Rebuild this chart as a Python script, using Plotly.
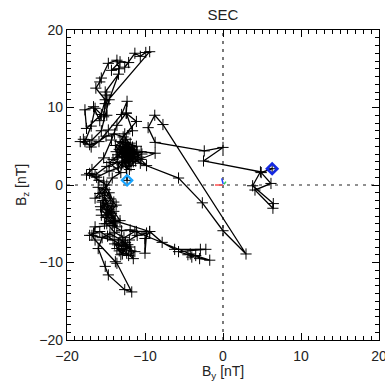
import plotly.graph_objects as go

# Hodogram path: By, Bz [nT] (start = first point, end = last point)
by = [-12.3, -12.4, -12.9, -11.9, -13.1, -12.2, -11.4, -12.6, -13.5, -12.0,
      -11.1, -12.9, -13.7, -12.5, -11.6, -12.3, -13.0, -14.1, -12.7, -11.3,
      -10.8, -11.8, -12.9, -13.8, -12.4, -11.6, -12.1,
      -12.6, -11.9, -13.3, -12.1, -11.0, -12.8, -13.6, -12.3, -11.7, -12.9,
      -12.0, -13.0, -11.5, -12.5, -10.5,
      -9.8, -11.2, -8.7,
      -10.5, -12.2, -13.4, -14.6, -16.2, -17.5, -16.8, -15.3, -14.3, -13.6,
      -12.4, -12.3, -13.0, -14.7, -15.9, -17.1, -18.3, -17.7, -16.9, -16.4,
      -15.6, -17.5, -17.7, -16.6, -15.8, -15.1, -16.3, -15.8, -15.6, -14.7,
      -13.6, -13.3, -14.3, -13.2, -12.1, -12.6, -11.3, -10.6, -9.9, -9.4,
      -15.1, -15.3, -14.9, -14.9, -15.1, -13.4, -14.6, -15.6, -16.8, -17.9,
      -16.9, -15.0, -13.9, -12.8, -11.1, -12.4, -11.6, -12.6, -13.2, -12.2,
      -11.3, -10.4, -12.8, -12.0, -13.5, -14.9, -16.4, -17.1, -15.9, -14.9,
      -15.8, -16.4, -15.2, -14.9, -15.7, -14.3, -15.6, -14.5, -13.6, -14.8,
      -15.4, -14.6, -15.3, -14.0, -14.6, -13.8,
      -15.0, -14.2, -15.5, -14.7, -15.2, -14.0, -15.6, -14.4, -15.1, -16.0,
      -14.3, -13.9,
      -9.4, -11.1, -11.9, -13.0,
      -14.2, -16.4, -16.6, -17.1, -15.8, -14.8, -13.4, -12.8, -12.35, -11.5,
      -12.0, -13.2, -14.5, -15.5, -16.0, -15.1, -14.7, -12.6, -11.7, -13.6,
      -13.8, -16.4, -16.8, -14.1, -13.0, -12.5, -13.3, -12.1, -11.3, -12.7,
      -13.9, -12.9,
      -13.6, -12.4, -13.1, -12.2, -12.9, -11.8,
      -12.0, -11.0, -9.8, -10.0, -10.0, -9.4, -7.8, -6.2,
      -2.9, -2.2, -5.7, -4.5, -4.0, -3.5, -3.0, -1.7, -4.2, -11.3,
      -12.7, -13.9, -14.9, -13.2, -14.0, -15.0, -13.7, -15.4, -14.2, -13.1,
      -14.6, -12.9, -12.2, -11.5, -12.6, -11.8, -10.6, -5.7, -2.65, 0.0,
      2.95, -7.7, -8.75, -9.6, -8.7, -2.4, 0.0, -2.5, 4.8, 3.8,
      6.45, 6.4, 4.1, 6.15, 4.9, 6.3]
bz = [0.6, 2.4, 3.7, 4.3, 4.9, 5.2, 3.9, 3.1, 3.9, 4.7,
      5.0, 5.5, 4.3, 2.9, 3.4, 4.1, 2.6, 3.3, 4.5, 4.5,
      3.6, 2.5, 3.9, 5.1, 5.9, 4.9, 3.3,
      4.0, 5.4, 4.6, 3.0, 4.2, 5.0, 3.5, 3.6, 4.6, 2.9,
      4.0, 4.2, 3.0, 5.5, 3.3,
      2.5, 3.1, 4.1,
      4.3, 3.7, 2.2, 1.8, 1.0, 1.3, 2.0, 3.5, 5.8, 7.7,
      9.3, 10.8, 9.1, 7.1, 5.6, 5.2, 5.6, 5.6, 7.6, 9.9,
      9.1, 7.3, 9.7, 10.1, 8.3, 11.0, 12.5, 13.3, 13.8, 15.7,
      16.1, 15.0, 14.8, 15.9, 15.8, 15.2, 17.0, 16.6, 17.1, 17.2,
      10.5, 8.8, 9.0, 11.6, 12.0, 14.3, 11.0, 7.0, 5.8, 5.9,
      4.9, 6.3, 6.6, 6.2, 8.2, 9.25, 7.0, 6.6, 5.6, 4.8,
      3.5, 4.0, 3.0, 2.0, 2.9, 2.4, 1.3, 1.5, 0.6, 0.0,
      -1.1, -1.7, -1.3, -2.4, -2.8, -3.7, -3.9, -4.7, -5.4, -3.1,
      -2.0, -1.0, 0.4, -2.2, -3.2, -4.4,
      -3.5, -2.8, -2.2, -4.0, -5.0, -4.9, -3.2, -1.8, -0.6, -0.3,
      -3.6, -4.6,
      -6.0, -6.0, -5.8, -5.9,
      -5.2, -5.4, -6.2, -6.5, -6.0, -6.6, -7.5, -8.4, -8.8, -9.5,
      -8.0, -7.0, -6.3, -6.8, -8.2, -10.5, -11.6, -13.5, -13.8, -10.1,
      -9.9, -7.1, -6.5, -7.1, -7.8, -7.4, -8.5, -9.1, -8.6, -7.9,
      -7.6, -8.9,
      -8.2, -8.2, -9.0, -7.7, -7.2, -8.5,
      -7.1, -6.5, -6.2, -8.8, -6.9, -6.0, -7.4, -8.3,
      -8.3, -8.3, -8.6, -9.0, -9.3, -9.1, -9.5, -9.7, -8.9, -6.0,
      -6.8, -6.1, -5.0, -4.6, -3.4, -4.2, -2.6, -1.0, 0.9, 1.6,
      2.9, 4.2, 2.8, 4.1, 4.8, 3.7, 2.8, 0.9, -2.3, -5.9,
      -8.9, 7.8, 9.0, 7.4, 5.5, 4.4, 4.85, 3.1, 1.7, -0.1,
      -2.4, -3.0, -0.65, 0.2, 1.6, 2.1]

# small axis triad near the origin (x0, y0, x1, y1)
triad_colors = ["#ff5050", "#2040ff", "#30d060"]
triad_x0 = [-1.03, -0.17, 0.13]
triad_y0 = [0.0, 0.86, 0.09]
triad_x1 = [0.0, 0.04, 0.38]
triad_y1 = [0.0, 0.09, 0.43]

xticks = [-20, -10, 0, 10, 20]
yticks = [-20, -10, 0, 10, 20]
font_family = "Liberation Sans"

fig = go.Figure()

fig.add_trace(go.Scatter(
    x=by, y=bz, mode="lines+markers",
    line=dict(color="black", width=1.3),
    marker=dict(symbol="cross-thin", size=8, line=dict(color="black", width=1)),
    showlegend=False, hoverinfo="skip"))

for c, a0, b0, a1, b1 in zip(triad_colors, triad_x0, triad_y0, triad_x1, triad_y1):
    fig.add_trace(go.Scatter(x=[a0, a1], y=[b0, b1], mode="lines",
                             line=dict(color=c, width=1.5),
                             showlegend=False, hoverinfo="skip"))

fig.add_trace(go.Scatter(
    x=[by[0]], y=[bz[0]], mode="markers",
    marker=dict(symbol="diamond-open", size=8, color="#18a4ff",
                line=dict(color="#18a4ff", width=2.2)),
    showlegend=False, hoverinfo="skip"))
fig.add_trace(go.Scatter(
    x=[by[-1]], y=[bz[-1]], mode="markers",
    marker=dict(symbol="diamond-open", size=8, color="#1428e0",
                line=dict(color="#1428e0", width=2.6)),
    showlegend=False, hoverinfo="skip"))

# dashed zero lines
fig.add_shape(type="line", xref="x", yref="y", x0=-20, x1=20, y0=0, y1=0,
              line=dict(color="#222", width=1.2, dash="3px,5px"), layer="below")
fig.add_shape(type="line", xref="x", yref="y", x0=0, x1=0, y0=-20, y1=20,
              line=dict(color="#222", width=1.2, dash="3px,5px"), layer="below")

axis_common = dict(
    range=[-20, 20], tickmode="array", showgrid=False, zeroline=False,
    showline=True, linecolor="black", linewidth=1.2, mirror="ticks",
    ticks="inside", ticklen=7, tickwidth=1, tickcolor="black",
    minor=dict(dtick=1, tick0=0, ticks="inside", ticklen=4, tickwidth=1,
               tickcolor="black", showgrid=False),
    tickfont=dict(family=font_family, size=14, color="#222"),
    ticklabeloverflow="allow", automargin=False,
)

fig.update_layout(
    width=385, height=381,
    margin=dict(l=67, r=6, t=30, b=41, pad=0, autoexpand=False),
    paper_bgcolor="white", plot_bgcolor="white",
    xaxis=dict(axis_common, tickvals=xticks, ticktext=[str(v).replace("-", "\u2212") for v in xticks],
               ticklabelstandoff=3),
    yaxis=dict(axis_common, tickvals=yticks, ticktext=[str(v).replace("-", "\u2212") for v in yticks]),
    title=dict(text="SEC", x=0.5, xref="paper", xanchor="center",
               y=1 - 15 / 381, yref="container", yanchor="middle",
               font=dict(family=font_family, size=15, color="#222")),
    annotations=[
        dict(text="B<sub>y</sub> [nT]", xref="paper", yref="paper", x=0.5, y=-0.103,
             xanchor="center", yanchor="middle", showarrow=False,
             font=dict(family=font_family, size=14, color="#222")),
        dict(text="B<sub>z</sub> [nT]", xref="paper", yref="paper", x=-0.144, y=0.5,
             xanchor="center", yanchor="middle", showarrow=False, textangle=-90,
             font=dict(family=font_family, size=14, color="#222")),
    ],
)

fig.write_html("out.html")
